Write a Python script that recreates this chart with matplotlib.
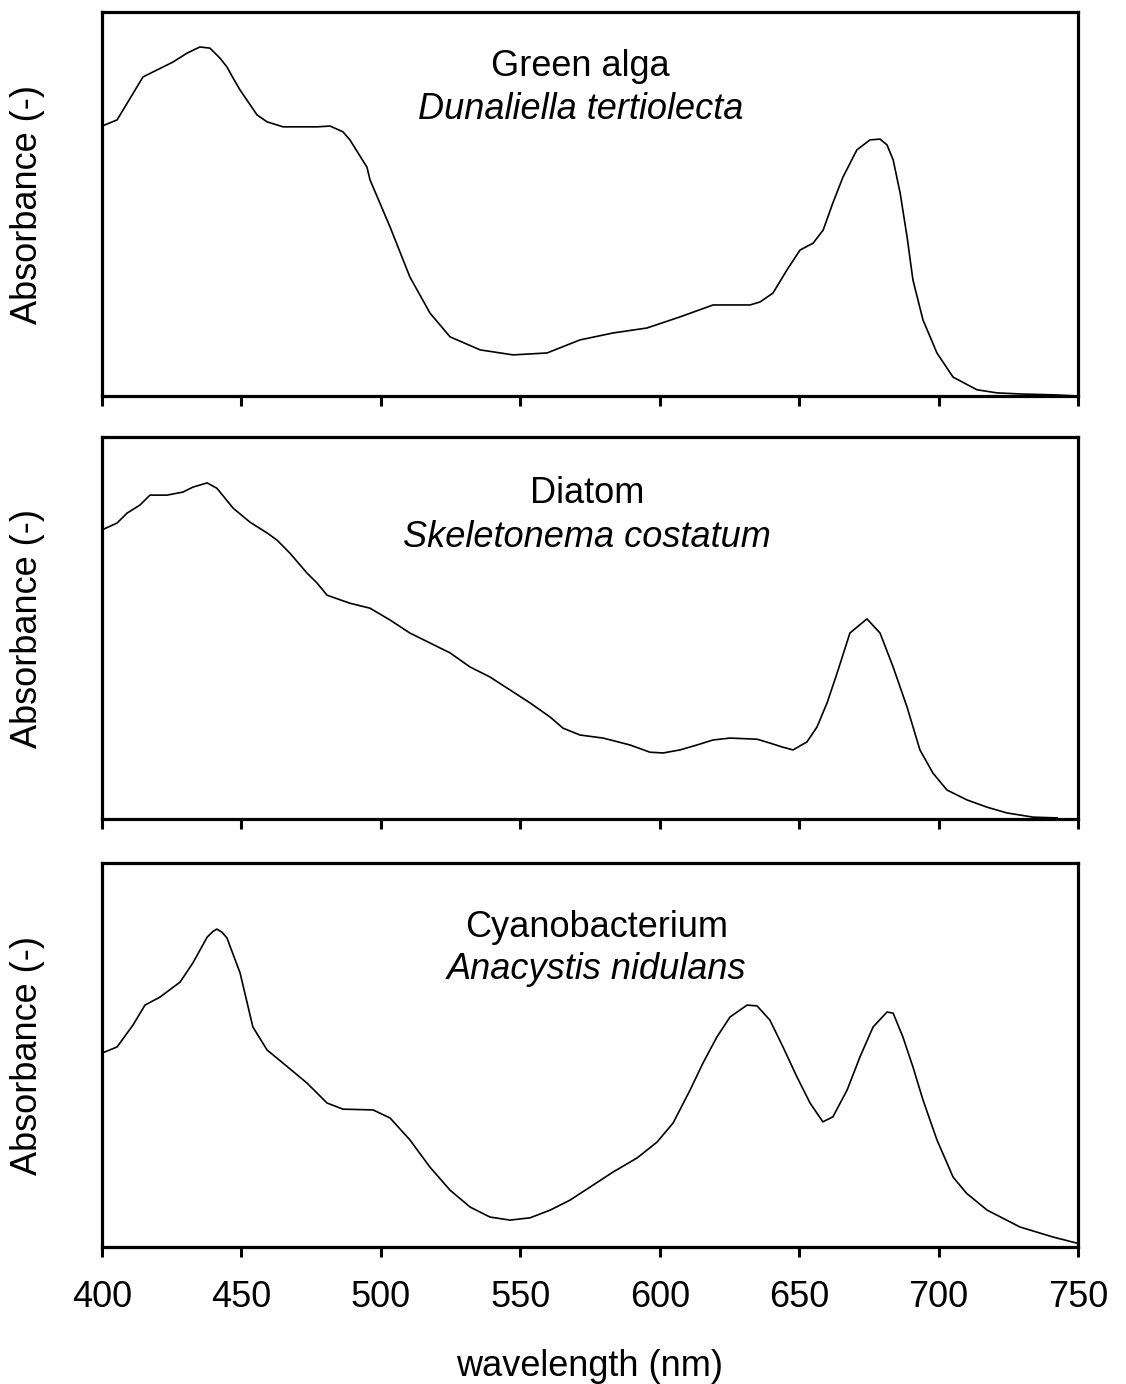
import matplotlib.pyplot as plt

plt.rcParams['font.family'] = ['Liberation Sans', 'DejaVu Sans']

# Absorbance spectra (relative units), read per organism
GREEN_NM = [400.0, 405.4, 414.7, 418.3, 425.5, 430.5, 435.1, 438.7, 442.3, 444.8,
            447.0, 449.5, 455.6, 459.2, 464.9, 477.1, 481.8, 486.4, 488.9, 495.0,
            496.1, 503.3, 510.4, 517.6, 524.8, 535.6, 547.4, 559.6, 571.4, 583.2,
            595.4, 607.3, 619.1, 632.4, 636.0, 640.6, 645.6, 650.3, 655.0, 658.6,
            662.1, 665.7, 670.7, 675.4, 679.0, 681.5, 683.7, 686.2, 688.7, 690.8,
            694.4, 699.4, 705.2, 713.8, 721.0, 730.0, 741.0, 749.6]
GREEN_ABS = [0.703, 0.719, 0.831, 0.844, 0.870, 0.893, 0.909, 0.906, 0.880, 0.857,
             0.828, 0.797, 0.732, 0.714, 0.701, 0.701, 0.703, 0.688, 0.667, 0.596,
             0.563, 0.440, 0.310, 0.216, 0.154, 0.120, 0.107, 0.112, 0.146, 0.164,
             0.177, 0.206, 0.237, 0.237, 0.245, 0.268, 0.328, 0.380, 0.398, 0.432,
             0.503, 0.570, 0.641, 0.667, 0.669, 0.654, 0.615, 0.529, 0.414, 0.302,
             0.198, 0.112, 0.049, 0.016, 0.008, 0.005, 0.003, 0.0]

DIATOM_NM = [400.0, 405.4, 409.0, 413.6, 417.2, 423.3, 429.0, 432.6, 437.7, 441.2,
             447.0, 453.1, 459.2, 462.8, 467.4, 473.5, 477.1, 480.7, 488.9, 496.1,
             503.3, 510.4, 517.6, 524.8, 532.0, 539.1, 546.3, 553.5, 560.7, 565.3,
             571.4, 579.7, 589.3, 596.5, 601.2, 607.3, 613.4, 619.1, 625.2, 634.9,
             639.5, 644.2, 647.8, 652.8, 656.4, 660.0, 663.6, 668.2, 674.3, 679.0,
             683.7, 688.7, 693.3, 698.0, 703.0, 710.2, 717.4, 724.5, 733.9, 742.5]
DIATOM_ABS = [0.757, 0.775, 0.801, 0.822, 0.848, 0.848, 0.856, 0.869, 0.880, 0.866,
              0.814, 0.777, 0.749, 0.730, 0.696, 0.644, 0.618, 0.586, 0.565, 0.552,
              0.521, 0.487, 0.461, 0.435, 0.398, 0.372, 0.338, 0.304, 0.267, 0.238,
              0.220, 0.212, 0.194, 0.175, 0.173, 0.181, 0.194, 0.207, 0.212, 0.209,
              0.199, 0.188, 0.181, 0.202, 0.241, 0.304, 0.382, 0.487, 0.524, 0.487,
              0.398, 0.293, 0.181, 0.120, 0.076, 0.050, 0.031, 0.016, 0.005, 0.003]

CYANO_NM = [400.0, 405.4, 411.1, 415.4, 420.8, 428.0, 432.6, 437.7, 439.8, 441.2,
            443.0, 444.8, 449.5, 454.1, 459.2, 464.9, 473.5, 480.7, 486.4, 497.2,
            503.3, 510.4, 517.6, 524.8, 532.0, 539.1, 546.3, 553.5, 560.7, 567.8,
            575.0, 583.2, 591.9, 599.0, 604.8, 610.9, 615.5, 620.5, 625.2, 631.3,
            634.9, 639.5, 644.2, 649.2, 653.9, 658.5, 662.1, 667.2, 671.8, 676.5,
            681.5, 683.7, 687.2, 690.8, 694.4, 699.4, 705.2, 710.0, 717.4, 729.2,
            741.0, 749.6]
CYANO_ABS = [0.505, 0.521, 0.578, 0.630, 0.651, 0.690, 0.740, 0.807, 0.822, 0.828,
             0.820, 0.805, 0.714, 0.573, 0.513, 0.479, 0.427, 0.375, 0.359, 0.357,
             0.336, 0.279, 0.208, 0.148, 0.104, 0.078, 0.070, 0.076, 0.096, 0.122,
             0.156, 0.195, 0.232, 0.273, 0.323, 0.409, 0.479, 0.547, 0.599, 0.630,
             0.628, 0.591, 0.521, 0.443, 0.375, 0.326, 0.339, 0.409, 0.495, 0.573,
             0.612, 0.609, 0.547, 0.469, 0.383, 0.279, 0.182, 0.140, 0.096, 0.052,
             0.026, 0.010]

GROUPS = ["Green alga", "Diatom", "Cyanobacterium"]
SPECIES = ["Dunaliella tertiolecta", "Skeletonema costatum", "Anacystis nidulans"]
XTICKS = [400, 450, 500, 550, 600, 650, 700, 750]

spectra = [(GREEN_NM, GREEN_ABS), (DIATOM_NM, DIATOM_ABS), (CYANO_NM, CYANO_ABS)]
label_pos = [(0.49, 0.857, 0.745), (0.497, 0.853, 0.738), (0.507, 0.833, 0.723)]
panels = [(0.7139, 0.9913), (0.4082, 0.6842), (0.0990, 0.3764)]

FS = 26
fig = plt.figure(figsize=(11.26, 13.84), dpi=100)

for i, ((nm, ab), (bot, top)) in enumerate(zip(spectra, panels)):
    ax = fig.add_axes([0.0906, bot, 0.9574 - 0.0906, top - bot])
    ax.plot(nm, ab, color='black', lw=1.2)
    ax.set_xlim(400, 750)
    ax.set_ylim(0, 1)
    for s in ax.spines.values():
        s.set_linewidth(2.3)
    ax.set_yticks([])
    ax.set_xticks(XTICKS)
    ax.tick_params(axis='x', direction='out', length=7, width=2.2, labelsize=FS, pad=17)
    if i < 2:
        ax.tick_params(axis='x', labelbottom=False)
    ax.set_ylabel("Absorbance (-)", fontsize=FS)
    ax.yaxis.set_label_coords(-0.058, 0.5)
    gx, gy, sy = label_pos[i]
    ax.text(gx, gy, GROUPS[i], transform=ax.transAxes, ha='center', va='center', fontsize=FS)
    ax.text(gx, sy, SPECIES[i], transform=ax.transAxes, ha='center', va='center',
            fontsize=FS, style='italic')

ax.set_xlabel("wavelength (nm)", fontsize=FS, labelpad=24)

fig.savefig("out.png", dpi=100)
